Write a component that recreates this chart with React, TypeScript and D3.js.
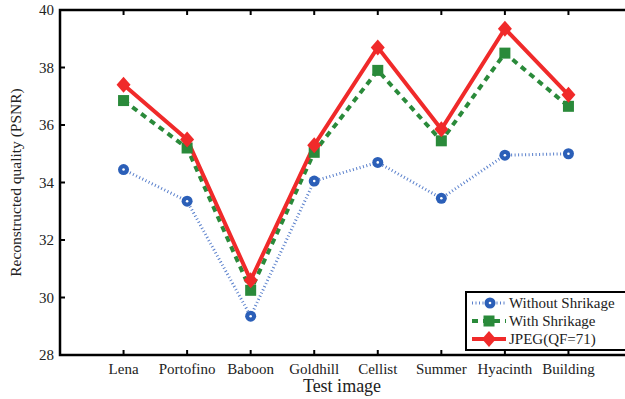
import { useEffect, useRef } from "react";
import * as d3 from "d3";

const categories = [ "Lena", "Portofino", "Baboon", "Goldhill", "Cellist", "Summer", "Hyacinth", "Building" ];
const withoutShrinkage = [ 34.45, 33.35, 29.35, 34.05, 34.7, 33.45, 34.95, 35.0 ];
const withShrinkage = [ 36.85, 35.2, 30.25, 35.05, 37.9, 35.45, 38.5, 36.65 ];
const jpeg = [ 37.4, 35.5, 30.6, 35.3, 38.7, 35.85, 39.35, 37.05 ];
const yTicks = [ 28, 30, 32, 34, 36, 38, 40 ];
const legendLabels = [ "Without Shrikage", "With Shrikage", "JPEG(QF=71)" ];

const BLUE = "#2b5fb8";
const BLUE_LINE = "#5a80cc";
const GREEN = "#2a8a3a";
const RED = "#f02a2a";
const FONT = "'Liberation Serif', 'DejaVu Serif', serif";

export default function App ()
{
    const svgRef = useRef<SVGSVGElement>( null );

    useEffect( () =>
    {
        if ( !svgRef.current ) return;
        const svg = d3.select( svgRef.current );
        svg.selectAll( "*" ).remove();

        const m = { left: 60, top: 10, right: 632, bottom: 355 };
        const x = d3.scalePoint().domain( categories ).range( [ m.left, m.right ] ).padding( 1 );
        const y = d3.scaleLinear().domain( [ 28, 40 ] ).range( [ m.bottom, m.top ] );

        const g = svg.append( "g" );

        // ticks (inward)
        g.selectAll( ".xtb" ).data( categories ).join( "line" )
            .attr( "x1", ( d ) => x( d )! ).attr( "x2", ( d ) => x( d )! )
            .attr( "y1", m.bottom ).attr( "y2", m.bottom - 5 )
            .attr( "stroke", "#000" ).attr( "stroke-width", 2 );
        g.selectAll( ".xtt" ).data( categories ).join( "line" )
            .attr( "x1", ( d ) => x( d )! ).attr( "x2", ( d ) => x( d )! )
            .attr( "y1", m.top ).attr( "y2", m.top + 5 )
            .attr( "stroke", "#000" ).attr( "stroke-width", 2 );
        g.selectAll( ".ytl" ).data( yTicks ).join( "line" )
            .attr( "x1", m.left ).attr( "x2", m.left + 5 )
            .attr( "y1", ( d ) => y( d ) ).attr( "y2", ( d ) => y( d ) )
            .attr( "stroke", "#000" ).attr( "stroke-width", 2 );

        // frame
        g.append( "rect" ).attr( "x", m.left ).attr( "y", m.top )
            .attr( "width", m.right - m.left ).attr( "height", m.bottom - m.top )
            .attr( "fill", "none" ).attr( "stroke", "#000" ).attr( "stroke-width", 2.5 );

        // tick labels
        g.selectAll( ".xl" ).data( categories ).join( "text" )
            .attr( "x", ( d ) => x( d )! ).attr( "y", m.bottom + 19 )
            .attr( "text-anchor", "middle" ).attr( "font-family", FONT ).attr( "font-size", 15 )
            .attr( "fill", "#222" ).text( ( d ) => d );
        g.selectAll( ".yl" ).data( yTicks ).join( "text" )
            .attr( "x", m.left - 6 ).attr( "y", ( d ) => y( d ) + 5 )
            .attr( "text-anchor", "end" ).attr( "font-family", FONT ).attr( "font-size", 15 )
            .attr( "fill", "#222" ).text( ( d ) => d );

        // axis titles
        g.append( "text" ).attr( "x", 342 ).attr( "y", 392 )
            .attr( "text-anchor", "middle" ).attr( "font-family", FONT ).attr( "font-size", 18 )
            .attr( "fill", "#222" ).text( "Test image" );
        g.append( "text" ).attr( "transform", `translate(21,${ ( m.top + m.bottom ) / 2 }) rotate(-90)` )
            .attr( "text-anchor", "middle" ).attr( "font-family", FONT ).attr( "font-size", 15.5 )
            .attr( "fill", "#222" ).text( "Reconstructed quality (PSNR)" );

        const line = d3.line<number>().x( ( _, i ) => x( categories[ i ] )! ).y( ( d ) => y( d ) );

        // series lines
        g.append( "path" ).datum( withoutShrinkage ).attr( "d", line ).attr( "fill", "none" )
            .attr( "stroke", BLUE_LINE ).attr( "stroke-width", 3 ).attr( "stroke-dasharray", "1,2.5" );
        g.append( "path" ).datum( withShrinkage ).attr( "d", line ).attr( "fill", "none" )
            .attr( "stroke", GREEN ).attr( "stroke-width", 4 ).attr( "stroke-dasharray", "6,5" );
        g.append( "path" ).datum( jpeg ).attr( "d", line ).attr( "fill", "none" )
            .attr( "stroke", RED ).attr( "stroke-width", 4 );

        const circleMark = ( sel: any, cx: number, cy: number ) =>
        {
            sel.append( "circle" ).attr( "cx", cx ).attr( "cy", cy ).attr( "r", 5.5 ).attr( "fill", BLUE );
            sel.append( "circle" ).attr( "cx", cx ).attr( "cy", cy ).attr( "r", 1.3 ).attr( "fill", "#fff" );
        };
        const squareMark = ( sel: any, cx: number, cy: number ) =>
        {
            sel.append( "rect" ).attr( "x", cx - 5.5 ).attr( "y", cy - 5.5 ).attr( "width", 11 ).attr( "height", 11 ).attr( "fill", GREEN );
        };
        const diamondMark = ( sel: any, cx: number, cy: number ) =>
        {
            sel.append( "path" ).attr( "d", `M${ cx },${ cy - 8 }L${ cx + 7 },${ cy }L${ cx },${ cy + 8 }L${ cx - 7 },${ cy }Z` ).attr( "fill", RED );
        };

        withoutShrinkage.forEach( ( v, i ) => circleMark( g, x( categories[ i ] )!, y( v ) ) );
        withShrinkage.forEach( ( v, i ) => squareMark( g, x( categories[ i ] )!, y( v ) ) );
        jpeg.forEach( ( v, i ) => diamondMark( g, x( categories[ i ] )!, y( v ) ) );

        // legend
        const lg = svg.append( "g" );
        lg.append( "rect" ).attr( "x", 466 ).attr( "y", 292 ).attr( "width", 170 ).attr( "height", 58 )
            .attr( "fill", "#fff" ).attr( "stroke", "#000" ).attr( "stroke-width", 2 );
        const rows = [ 303, 321, 339 ];
        lg.append( "line" ).attr( "x1", 472 ).attr( "x2", 506 ).attr( "y1", rows[ 0 ] ).attr( "y2", rows[ 0 ] )
            .attr( "stroke", BLUE_LINE ).attr( "stroke-width", 3 ).attr( "stroke-dasharray", "1,2.5" );
        circleMark( lg, 490, rows[ 0 ] );
        lg.append( "line" ).attr( "x1", 472 ).attr( "x2", 506 ).attr( "y1", rows[ 1 ] ).attr( "y2", rows[ 1 ] )
            .attr( "stroke", GREEN ).attr( "stroke-width", 4 ).attr( "stroke-dasharray", "6,5" );
        squareMark( lg, 489, rows[ 1 ] );
        lg.append( "line" ).attr( "x1", 472 ).attr( "x2", 506 ).attr( "y1", rows[ 2 ] ).attr( "y2", rows[ 2 ] )
            .attr( "stroke", RED ).attr( "stroke-width", 4 );
        diamondMark( lg, 489, rows[ 2 ] );
        lg.selectAll( ".lt" ).data( legendLabels ).join( "text" )
            .attr( "x", 509 ).attr( "y", ( _, i ) => rows[ i ] + 5 )
            .attr( "font-family", FONT ).attr( "font-size", 15 ).attr( "fill", "#222" )
            .text( ( d ) => d );
    }, [] );

    return (
        <div style={ { position: "absolute", left: 0, top: 0, width: 625, height: 399, overflow: "hidden", background: "#fff" } }>
            <svg ref={ svgRef } width={ 625 } height={ 399 } style={ { display: "block" } } />
        </div>
    );
}
